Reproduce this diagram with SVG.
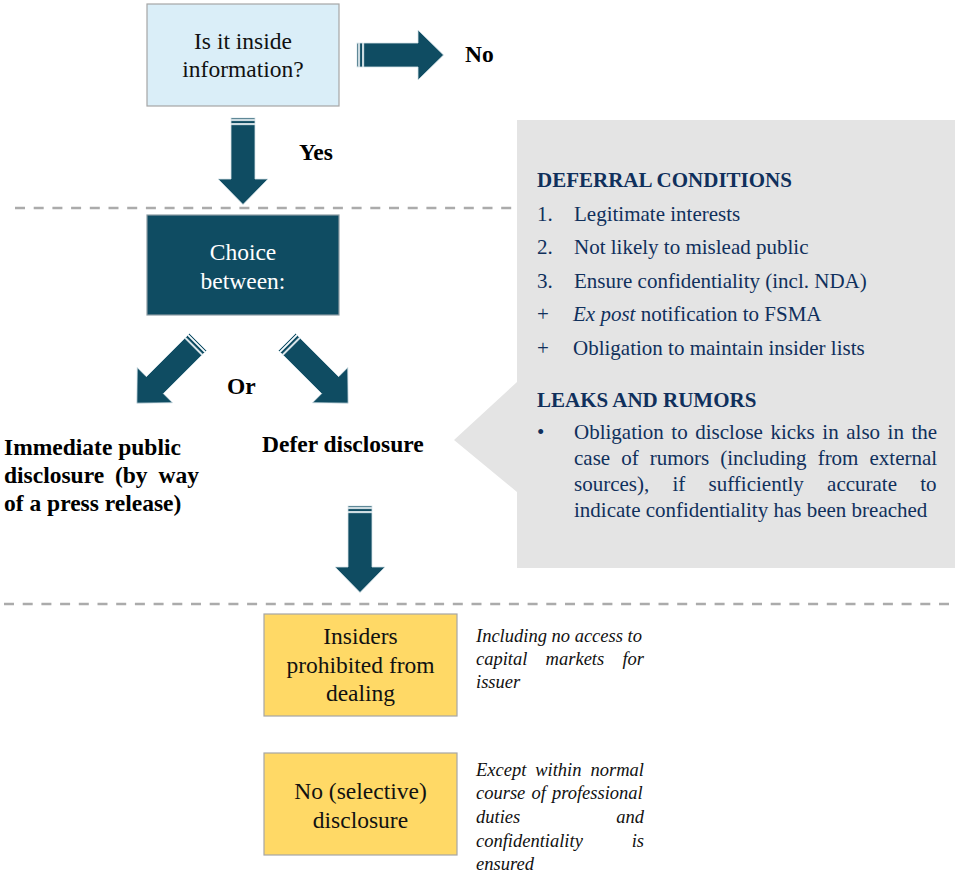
<svg xmlns="http://www.w3.org/2000/svg" width="955" height="875" viewBox="0 0 955 875">
  <style>
    .serif { font-family: "Liberation Serif", "Times New Roman", serif; }
    .box-light { fill: #DAEEF8; stroke: #A6A6A6; stroke-width: 1.2; }
    .box-dark { fill: #0F4C62; stroke: #8C9CA3; stroke-width: 1.2; }
    .box-yellow { fill: #FFD966; stroke: #A6A6A6; stroke-width: 1.2; }
    .box-text { font-size: 23.5px; fill: #111; text-anchor: middle; }
    .box-text-w { font-size: 23.5px; fill: #FFFFFF; text-anchor: middle; }
    .label { font-size: 23.5px; font-weight: bold; fill: #000; }
    .divider { stroke: #ABABAB; stroke-width: 2.5; stroke-dasharray: 10 8.7; fill: none; }
    .panel { fill: #E4E4E4; }
    .panel-head { font-size: 21px; font-weight: bold; fill: #10305C; }
    .panel-text { font-size: 21px; fill: #10305C; }
    .note { font-size: 18.5px; font-style: italic; fill: #111; }
    .arrow { fill: #0F4C62; stroke: #D6E3E8; stroke-width: 0.8; }
  </style>
  <defs>
    <!-- block arrow pointing +x: two tail stripes, shaft and head, 87 long -->
    <g id="blockArrow">
      <rect x="0" y="-12" width="1.4" height="24"/>
      <rect x="2.7" y="-12" width="2.7" height="24"/>
      <polygon points="6.7,-12 61,-12 61,-25 86.5,0 61,25 61,12 6.7,12"/>
    </g>
  </defs>

  <!-- section dividers -->
  <line class="divider" x1="15" y1="208" x2="517" y2="208"/>
  <line class="divider" x1="4" y1="604" x2="955" y2="604"/>

  <!-- callout panel with pointer toward "Defer disclosure" -->
  <g id="panel-deferral">
    <path class="panel" d="M517,120 H955 V568 H517 V492 L454,440 L517,382 Z"/>
    <g class="serif">
      <text class="panel-head" x="537" y="187">DEFERRAL CONDITIONS</text>
      <text class="panel-text" x="537" y="221">1.</text>
      <text class="panel-text" x="574" y="221">Legitimate interests</text>
      <text class="panel-text" x="537" y="254">2.</text>
      <text class="panel-text" x="574" y="254">Not likely to mislead public</text>
      <text class="panel-text" x="537" y="288">3.</text>
      <text class="panel-text" x="574" y="288">Ensure confidentiality (incl. NDA)</text>
      <text class="panel-text" x="537" y="321">+</text>
      <text class="panel-text" x="573" y="321"><tspan font-style="italic">Ex post</tspan> notification to FSMA</text>
      <text class="panel-text" x="537" y="355">+</text>
      <text class="panel-text" x="573" y="355">Obligation to maintain insider lists</text>
      <text class="panel-head" x="537" y="407">LEAKS AND RUMORS</text>
      <text class="panel-text" x="537" y="439">•</text>
      <text class="panel-text" x="574" y="439" style="word-spacing:2.3px">Obligation to disclose kicks in also in the</text>
      <text class="panel-text" x="574" y="465" style="word-spacing:5.8px">case of rumors (including from external</text>
      <text class="panel-text" x="574" y="491" style="word-spacing:18px">sources), if sufficiently accurate to</text>
      <text class="panel-text" x="574" y="517">indicate confidentiality has been breached</text>
    </g>
  </g>

  <!-- nodes -->
  <g id="node-inside-info">
    <rect class="box-light" x="147" y="4" width="192" height="102"/>
    <text class="serif box-text" x="243" y="49">Is it inside</text>
    <text class="serif box-text" x="243" y="77">information?</text>
  </g>

  <g id="node-choice">
    <rect class="box-dark" x="147" y="215" width="192" height="100"/>
    <text class="serif box-text-w" x="243" y="260">Choice</text>
    <text class="serif box-text-w" x="243" y="289">between:</text>
  </g>

  <g id="node-no">
    <text class="serif label" x="465" y="62">No</text>
  </g>

  <g id="node-immediate">
    <text class="serif label" x="4" y="455">Immediate public</text>
    <text class="serif label" x="4" y="483" style="word-spacing:5px">disclosure (by way</text>
    <text class="serif label" x="4" y="511">of a press release)</text>
  </g>

  <g id="node-defer">
    <text class="serif label" x="262" y="452">Defer disclosure</text>
  </g>

  <g id="node-insiders">
    <rect class="box-yellow" x="264" y="614" width="193" height="102"/>
    <text class="serif box-text" x="360.5" y="644">Insiders</text>
    <text class="serif box-text" x="360.5" y="673">prohibited from</text>
    <text class="serif box-text" x="360.5" y="701">dealing</text>
  </g>

  <g id="note-insiders">
    <text class="serif note" x="476" y="642">Including no access to</text>
    <text class="serif note" x="476" y="665" style="word-spacing:13.6px">capital markets for</text>
    <text class="serif note" x="476" y="688">issuer</text>
  </g>

  <g id="node-selective">
    <rect class="box-yellow" x="264" y="753" width="193" height="102"/>
    <text class="serif box-text" x="360.5" y="799">No (selective)</text>
    <text class="serif box-text" x="360.5" y="828">disclosure</text>
  </g>

  <g id="note-selective">
    <text class="serif note" x="476" y="776" style="word-spacing:4.3px">Except within normal</text>
    <text class="serif note" x="476" y="799" style="word-spacing:1.5px">course of professional</text>
    <text class="serif note" x="476" y="823">duties</text>
    <text class="serif note" x="644" y="823" text-anchor="end">and</text>
    <text class="serif note" x="476" y="847">confidentiality</text>
    <text class="serif note" x="644" y="847" text-anchor="end">is</text>
    <text class="serif note" x="476" y="870">ensured</text>
  </g>

  <!-- connectors -->
  <g id="connectors" class="arrow">
    <use href="#blockArrow" transform="translate(357,55)"/>
    <use href="#blockArrow" transform="translate(243,118) rotate(90)"/>
    <use href="#blockArrow" transform="translate(198,342) rotate(135)"/>
    <use href="#blockArrow" transform="translate(287,342) rotate(45)"/>
    <use href="#blockArrow" transform="translate(360,506) rotate(90)"/>
  </g>
  <g id="connector-labels" class="serif">
    <text class="label" x="299" y="160">Yes</text>
    <text class="label" x="227" y="394">Or</text>
  </g>
</svg>
